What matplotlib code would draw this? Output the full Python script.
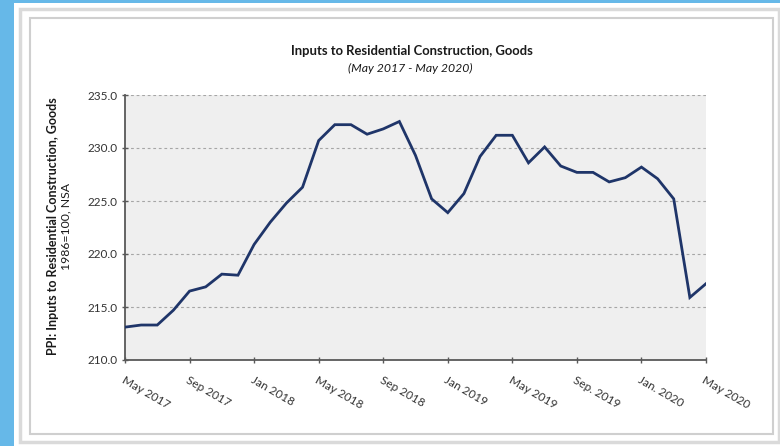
import matplotlib
matplotlib.use("Agg")
import matplotlib.pyplot as plt
from matplotlib.patches import Rectangle

plt.rcParams.update({
    "font.family": ["Lato", "DejaVu Sans"],
    "font.size": 8,
})

# ---------------------------------------------------------
#  Data: PPI inputs to residential construction, goods (monthly)
# ---------------------------------------------------------
months = list(range(37))   # May 2017 .. May 2020
ppi = [213.1, 213.3, 213.3, 214.7, 216.5, 216.9, 218.1, 218.0, 220.9, 223.0,
       224.8, 226.3, 230.7, 232.2, 232.2, 231.3, 231.8, 232.5, 229.3, 225.2,
       223.9, 225.7, 229.2, 231.2, 231.2, 228.6, 230.1, 228.3, 227.7, 227.7,
       226.8, 227.2, 228.2, 227.1, 225.2, 215.9, 217.2]
tick_months = [0, 4, 8, 12, 16, 20, 24, 28, 32, 36]
tick_labels = ["May 2017", "Sep 2017", "Jan 2018", "May 2018", "Sep 2018",
               "Jan 2019", "May 2019", "Sep. 2019", "Jan. 2020", "May 2020"]
y_ticks = [210, 215, 220, 225, 230, 235]

LINE_COLOR = "#1F3569"
AXIS_COLOR = "#595959"
PLOT_BG = "#EFEFEF"

# ---------------------------------------------------------
#  Figure + card background
# ---------------------------------------------------------
W, H = 780, 446
fig = plt.figure(figsize=(W / 100, H / 100), dpi=100)
fig.patch.set_facecolor("white")

def px_rect(x0, y0, x1, y1, **kw):
    # rectangle given in pixel coords (top-left origin), drawn behind the axes
    r = Rectangle((x0 / W, 1 - y1 / H), (x1 - x0) / W, (y1 - y0) / H,
                  transform=fig.transFigure, zorder=-5, **kw)
    fig.patches.append(r)

px_rect(0, 0, 14, H, facecolor="#66B8E8", edgecolor="none")
px_rect(0, 0, W, 2.5, facecolor="#66B8E8", edgecolor="none")
px_rect(20, 9, 779, 442, facecolor="none", edgecolor="#DADADA", lw=2.5)
px_rect(30, 18, 773, 434, facecolor="white", edgecolor="#CFCFCF", lw=1.5)

# ---------------------------------------------------------
#  Axes
# ---------------------------------------------------------
ax = fig.add_axes([125 / W, 1 - 360 / H, (706 - 125) / W, (360 - 95) / H])
ax.set_zorder(2)
ax.set_facecolor(PLOT_BG)

ax.plot(months, ppi, color=LINE_COLOR, lw=2.0, solid_joinstyle="miter", zorder=3)

ax.set_xlim(0, 36)
ax.set_ylim(210, 235)
ax.set_yticks(y_ticks)
ax.set_yticklabels([f"{v:.1f}" for v in y_ticks], fontsize=8.5, color="#333333")
ax.set_xticks(tick_months)
ax.set_xticklabels(tick_labels, rotation=-30, ha="left", va="top",
                   rotation_mode="anchor", fontsize=8.5, color="#333333")

ax.grid(axis="y", color="#A6A6A6", ls=(0, (2.5, 2.5)), lw=0.8)
ax.set_axisbelow(True)
for s in ["top", "right"]:
    ax.spines[s].set_visible(False)
for s in ["left", "bottom"]:
    ax.spines[s].set_color(AXIS_COLOR)
    ax.spines[s].set_linewidth(1.3)
ax.tick_params(axis="both", direction="inout", length=5, width=1.0,
               color=AXIS_COLOR, pad=3)
ax.tick_params(axis="x", pad=8)

# ---------------------------------------------------------
#  Titles and axis label
# ---------------------------------------------------------
fig.text(412 / W, 1 - 51 / H, "Inputs to Residential Construction, Goods",
         ha="center", va="center", fontsize=9.4, weight="bold", color="#1A1A1A")
fig.text(410 / W, 1 - 68 / H, "(May 2017 - May 2020)",
         ha="center", va="center", fontsize=8.8, style="italic", color="#1A1A1A")

fig.text(53 / W, 1 - 226 / H, "PPI: Inputs to Residential Construction, Goods",
         ha="center", va="center", rotation=90, fontsize=9, weight="bold",
         color="#1A1A1A")
fig.text(66 / W, 1 - 226 / H, "1986=100, NSA",
         ha="center", va="center", rotation=90, fontsize=8.8, color="#1A1A1A")

fig.savefig("out.png", dpi=100, facecolor="white")
plt.close(fig)
